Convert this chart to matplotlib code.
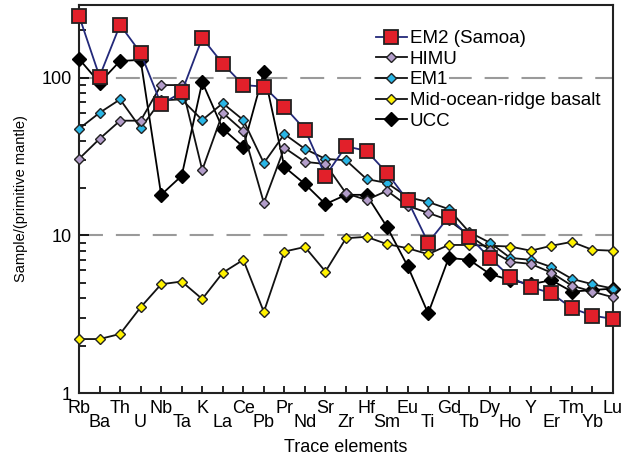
import matplotlib
matplotlib.use("Agg")
import matplotlib.pyplot as plt
from matplotlib.transforms import ScaledTranslation
from matplotlib.ticker import LogLocator, NullFormatter

plt.rcParams['font.family'] = ['Liberation Sans', 'DejaVu Sans']

elements = ["Rb", "Ba", "Th", "U", "Nb", "Ta", "K", "La", "Ce", "Pb", "Pr", "Nd", "Sr",
            "Zr", "Hf", "Sm", "Eu", "Ti", "Gd", "Tb", "Dy", "Ho", "Y", "Er", "Tm", "Yb", "Lu"]

em2 = [248, 102, 217, 144, 68, 81, 179, 123, 90, 88, 65.5, 47, 23.9, 36.8, 34.4, 24.9,
       16.7, 9.0, 13.1, 9.8, 7.2, 5.45, 4.7, 4.3, 3.45, 3.1, 2.95]
himu = [30.6, 41, 53.5, 53.5, 90, 90, 26, 60, 46, 16.1, 36, 29.3, 28.4, 18.5, 16.8, 19.2,
        15.4, 13.9, 12.5, 10.0, 8.1, 6.8, 6.6, 5.8, 4.8, 4.4, 4.05]
em1 = [47.5, 60, 73, 48, 72, 73, 54, 69, 54, 28.8, 44, 35.4, 30.6, 30, 22.8, 21.5,
       17.5, 16.3, 14.7, 10.5, 9.0, 7.2, 7.0, 6.3, 5.3, 4.9, 4.6]
morb = [2.2, 2.2, 2.37, 3.5, 4.9, 5.1, 3.95, 5.8, 7.0, 3.27, 7.9, 8.45, 5.9, 9.6, 9.8, 8.8,
        8.3, 7.6, 8.7, 8.7, 8.6, 8.5, 8.0, 8.6, 9.1, 8.1, 8.0]
ucc = [132, 93, 128, 130, 18.1, 23.9, 94, 47.5, 36.5, 109, 27.2, 21.2, 15.8, 18.1, 18.1, 11.3,
       6.4, 3.2, 7.2, 7.0, 5.7, 5.2, 4.9, 5.2, 4.4, 4.5, 4.6]

labels = ["EM2 (Samoa)", "HIMU", "EM1", "Mid-ocean-ridge basalt", "UCC"]

fig = plt.figure(figsize=(6.22, 4.58), dpi=100)
ax = fig.add_axes([79/622, 1-393/458, (613-79)/622, (393-5)/458])
ax.set_yscale('log')

x = list(range(len(elements)))
edge = '#222222'
lw = 1.3
common = dict(lw=lw, clip_on=False)
h_ucc, = ax.plot(x, ucc, '-', color='black', marker='D', ms=6.8,
                 mfc='black', mec='black', mew=1, zorder=3, label=labels[4], **common)
h_morb, = ax.plot(x, morb, '-', color='#111111', marker='D', ms=5.6,
                  mfc='#fff200', mec=edge, mew=1, zorder=4, label=labels[3], **common)
h_em1, = ax.plot(x, em1, '-', color='#111111', marker='D', ms=5.6,
                 mfc='#29b6e6', mec=edge, mew=1, zorder=5, label=labels[2], **common)
h_himu, = ax.plot(x, himu, '-', color='#111111', marker='D', ms=5.6,
                  mfc='#b39dca', mec=edge, mew=1, zorder=6, label=labels[1], **common)
h_em2, = ax.plot(x, em2, '-', color='#23297a', marker='s', ms=10,
                 mfc='#e2202a', mec=edge, mew=1.3, zorder=7, label=labels[0], **common)

for yv in (10, 100):
    ax.axhline(yv, color='#9a9a9a', lw=1.5, linestyle=(0, (11.5, 6.2)), zorder=1)

ax.set_xlim(0, 26)
ax.set_ylim(1, 290)
ax.set_yticks([1, 10, 100])
ax.set_yticklabels(['1', '10', '100'])
ax.yaxis.set_minor_locator(LogLocator(base=10, subs=range(2, 10)))
ax.yaxis.set_minor_formatter(NullFormatter())
ax.tick_params(axis='y', which='major', direction='in', length=7, width=1.2, labelsize=13, pad=5)
ax.tick_params(axis='y', which='minor', direction='in', length=5, width=1.2)
ax.set_xticks(x)
ax.set_xticklabels(elements)
ax.tick_params(axis='x', direction='in', length=5, width=1.2, labelsize=13, pad=5)
for i, lab in enumerate(ax.get_xticklabels()):
    if i % 2 == 1:
        lab.set_transform(lab.get_transform() + ScaledTranslation(0, -14/100, fig.dpi_scale_trans))
for s in ax.spines.values():
    s.set_linewidth(1.5)
    s.set_color('#222222')

fig.text(346/622, 1-448/458, 'Trace elements', fontsize=13, ha='center', va='center')
ax.set_ylabel('Sample/(primitive mantle)', fontsize=10.5, labelpad=10)

leg = ax.legend(handles=[h_em2, h_himu, h_em1, h_morb, h_ucc], loc='upper left',
                bbox_to_anchor=(376/622, 1-30/458), bbox_transform=fig.transFigure,
                frameon=False, fontsize=13.5, borderpad=0, labelspacing=0.19,
                handlelength=1.65, handletextpad=0.15, borderaxespad=0)
leg.set_zorder(10)
for t in leg.get_texts():
    t.set_bbox(dict(facecolor='white', edgecolor='none', pad=1))

fig.savefig('out.png', dpi=100)
